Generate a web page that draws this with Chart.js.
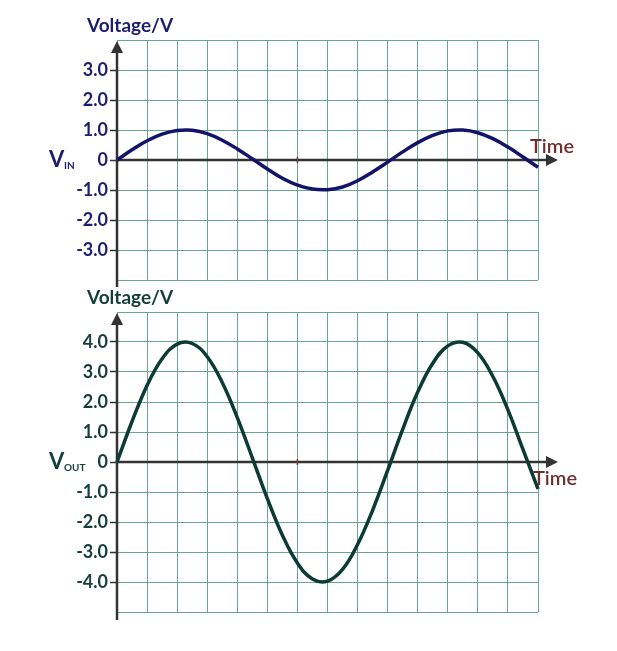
<!DOCTYPE html>
<html>
<head>
<meta charset="utf-8">
<script src="https://cdn.jsdelivr.net/npm/chart.js@4"></script>
<style>
  html, body { margin: 0; padding: 0; background: #fff; }
  canvas { position: absolute; left: 0; }
  #vin { top: 0; }
  #vout { top: 290px; }
</style>
</head>
<body>
<canvas id="vin" width="617" height="300"></canvas>
<canvas id="vout" width="617" height="361"></canvas>
<script>
// time samples (grid units)
const timeX = [0, 0.5, 1, 1.5, 2, 2.5, 3, 3.5, 4, 4.5, 5, 5.5, 6, 6.5, 7, 7.5, 8, 8.5, 9, 9.5, 10, 10.5, 11, 11.5, 12, 12.5, 13, 13.5, 14];
// input voltage
const vinValues = [0, 0.34, 0.64, 0.86, 0.98, 0.99, 0.88, 0.66, 0.37, 0.04, -0.3, -0.61, -0.84, -0.97, -0.99, -0.9, -0.69, -0.4, -0.07, 0.27, 0.58, 0.82, 0.97, 1.0, 0.91, 0.71, 0.43, 0.1, -0.24];
// output voltage
const voutValues = [0, 1.35, 2.55, 3.44, 3.93, 3.95, 3.51, 2.65, 1.48, 0.14, -1.22, -2.44, -3.37, -3.9, -3.97, -3.58, -2.75, -1.61, -0.28, 1.09, 2.33, 3.29, 3.87, 3.99, 3.64, 2.85, 1.74, 0.42, -0.9];
// tick labels shown on each voltage axis
const vinTicks = ['-3.0', '-2.0', '-1.0', '0', '1.0', '2.0', '3.0'];
const voutTicks = ['-4.0', '-3.0', '-2.0', '-1.0', '0', '1.0', '2.0', '3.0', '4.0'];

const GRID = '#67a98e';
const AXIS = '#333333';
const FONT = 'Lato, "Open Sans", sans-serif';

function makeChart(id, opts) {
    const canvas = document.getElementById(id);
    const H = canvas.height;

    // axes with arrows + labels, drawn from scale positions
    const decor = {
        id: 'decor' + id,
        beforeDatasetsDraw(chart) {
            const { ctx, chartArea, scales } = chart;
            const x0 = scales.x.getPixelForValue(0);
            const y0 = scales.y.getPixelForValue(0);
            ctx.save();
            ctx.strokeStyle = AXIS;
            ctx.fillStyle = AXIS;
            ctx.lineWidth = 2.5;
            // vertical axis
            ctx.beginPath();
            ctx.moveTo(x0, chartArea.bottom + opts.axisBelow);
            ctx.lineTo(x0, chartArea.top + 8);
            ctx.stroke();
            ctx.beginPath();
            ctx.moveTo(x0, chartArea.top + 1);
            ctx.lineTo(x0 - 6, chartArea.top + 13);
            ctx.lineTo(x0 + 6, chartArea.top + 13);
            ctx.closePath();
            ctx.fill();
            // horizontal axis
            const xEnd = chartArea.right + 20;
            ctx.beginPath();
            ctx.moveTo(x0, y0);
            ctx.lineTo(xEnd - 8, y0);
            ctx.stroke();
            ctx.beginPath();
            ctx.moveTo(xEnd, y0);
            ctx.lineTo(xEnd - 12, y0 - 6);
            ctx.lineTo(xEnd - 12, y0 + 6);
            ctx.closePath();
            ctx.fill();
            // small mark on time axis
            const xm = scales.x.getPixelForValue(6);
            ctx.strokeStyle = '#7a3535';
            ctx.lineWidth = 1.5;
            ctx.beginPath();
            ctx.moveTo(xm, y0 - 3);
            ctx.lineTo(xm, y0 + 3);
            ctx.stroke();
            ctx.restore();
        },
        afterDraw(chart) {
            const { ctx, scales } = chart;
            const y0 = scales.y.getPixelForValue(0);
            ctx.save();
            ctx.textBaseline = 'middle';
            ctx.textAlign = 'left';
            ctx.fillStyle = opts.textColor;
            ctx.font = 'bold 19px ' + FONT;
            ctx.fillText('Voltage/V', 87, opts.titleY);
            ctx.font = 'bold 22px ' + FONT;
            ctx.fillText('V', 49, y0);
            ctx.font = 'bold 10px ' + FONT;
            ctx.fillText(opts.sub, 64, y0 + 6);
            ctx.fillStyle = '#6d2f2f';
            ctx.font = '600 20px ' + FONT;
            ctx.fillText('Time', opts.timeX, y0 + opts.timeDy);
            ctx.restore();
        }
    };

    return new Chart(canvas.getContext('2d'), {
        type: 'line',
        data: {
            datasets: [{
                data: timeX.map((t, i) => ({ x: t, y: opts.values[i] })),
                borderColor: opts.lineColor,
                borderWidth: 3.5,
                pointRadius: 0,
                tension: 0.4,
                fill: false,
                clip: false,
            }],
        },
        options: {
            responsive: false,
            animation: false,
            events: [],
            layout: { padding: { top: opts.top, right: 79, left: 0, bottom: 0 } },
            plugins: { legend: { display: false }, tooltip: { enabled: false } },
            scales: {
                x: {
                    type: 'linear',
                    min: 0,
                    max: 14,
                    afterFit: (s) => { s.height = H - opts.bottom; },
                    ticks: { display: false, stepSize: 1 },
                    grid: { color: GRID, lineWidth: 1, drawTicks: false },
                    border: { display: false },
                },
                y: {
                    type: 'linear',
                    min: opts.min,
                    max: opts.max,
                    afterFit: (s) => { s.width = 117; },
                    ticks: {
                        stepSize: 1,
                        autoSkip: false,
                        padding: 2,
                        color: opts.textColor,
                        font: { family: FONT, size: 18, weight: 'bold' },
                        callback: (v) => {
                            const label = v === 0 ? '0' : v.toFixed(1);
                            return opts.ticks.includes(label) ? label : '';
                        },
                    },
                    grid: {
                        color: GRID,
                        lineWidth: 1,
                        tickLength: 7,
                        tickWidth: 1.5,
                        tickColor: (c) => (c.tick && Math.abs(c.tick.value) < opts.max ? AXIS : 'rgba(0,0,0,0)'),
                    },
                    border: { display: false },
                },
            },
        },
        plugins: [decor],
    });
}

makeChart('vin', {
    values: vinValues, ticks: vinTicks, min: -4, max: 4,
    top: 40, bottom: 280, axisBelow: 7,
    lineColor: '#12136b', textColor: '#1d1f6e',
    sub: 'IN', titleY: 26, timeX: 530, timeDy: -13,
});

makeChart('vout', {
    values: voutValues, ticks: voutTicks, min: -5, max: 5,
    top: 22, bottom: 322, axisBelow: 8,
    lineColor: '#0b3b34', textColor: '#133e39',
    sub: 'OUT', titleY: 8, timeX: 533, timeDy: 17,
});
</script>
</body>
</html>
